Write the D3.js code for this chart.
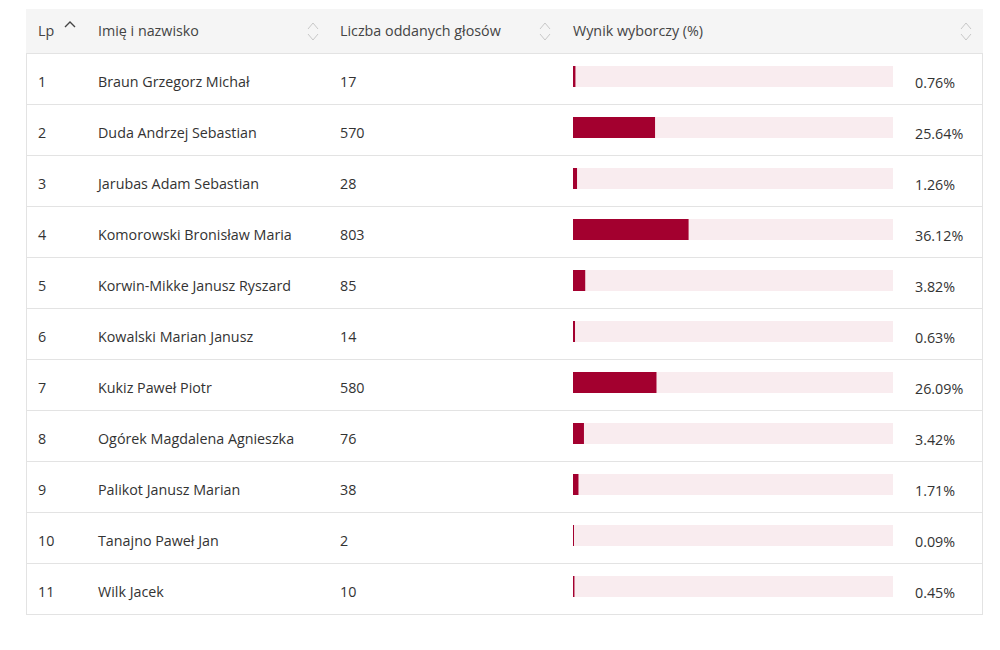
<!DOCTYPE html>
<html><head><meta charset="utf-8">
<script src="https://cdn.jsdelivr.net/npm/d3@7"></script>
<style>
html,body{margin:0;padding:0;background:#fff;}
svg{display:block;font-family:"Open Sans",sans-serif;}
</style></head>
<body><svg id="c" width="1000" height="650"></svg>
<script>
const headers = ["Lp", "Imię i nazwisko", "Liczba oddanych głosów", "Wynik wyborczy (%)"];
const lp = [1,2,3,4,5,6,7,8,9,10,11];
const names = ["Braun Grzegorz Michał","Duda Andrzej Sebastian","Jarubas Adam Sebastian","Komorowski Bronisław Maria","Korwin-Mikke Janusz Ryszard","Kowalski Marian Janusz","Kukiz Paweł Piotr","Ogórek Magdalena Agnieszka","Palikot Janusz Marian","Tanajno Paweł Jan","Wilk Jacek"];
const votes = [17,570,28,803,85,14,580,76,38,2,10];
const pct = [0.76,25.64,1.26,36.12,3.82,0.63,26.09,3.42,1.71,0.09,0.45];

const svg = d3.select("#c");
const fs = 14.3;
const left = 26, right = 983, headTop = 9, headH = 44, rowH = 51;
const bodyTop = headTop + headH;
const y = d3.scaleBand().domain(lp).range([bodyTop, bodyTop + rowH*lp.length]);
const x = d3.scaleLinear().domain([0,100]).range([573, 893]);
const colX = [38, 98, 340, 573];

// header
svg.append("rect").attr("x",left).attr("y",headTop).attr("width",right-left).attr("height",headH).attr("fill","#f5f5f5");
svg.selectAll("text.h").data(headers).join("text").attr("class","h")
  .attr("x",(d,i)=>colX[i]).attr("y",headTop+headH/2).attr("dy","0.35em")
  .attr("font-size",fs).attr("fill","#444").text(d=>d);

// sort icons
svg.append("path").attr("d","M65,27 L70,22 L75,27").attr("fill","none").attr("stroke","#444").attr("stroke-width",1.4);
[313,545,966].forEach(cx=>{
  svg.append("path").attr("d",`M${cx-5},${29} L${cx},${23} L${cx+5},${29}`).attr("fill","none").attr("stroke","#c8c8c8").attr("stroke-width",1);
  svg.append("path").attr("d",`M${cx-5},${34} L${cx},${40} L${cx+5},${34}`).attr("fill","none").attr("stroke","#c8c8c8").attr("stroke-width",1);
});

// body borders
svg.append("line").attr("x1",left+0.5).attr("x2",left+0.5).attr("y1",bodyTop).attr("y2",y.range()[1]+1).attr("stroke","#e3e3e3");
svg.append("line").attr("x1",right-0.5).attr("x2",right-0.5).attr("y1",bodyTop).attr("y2",y.range()[1]+1).attr("stroke","#e3e3e3");
svg.append("line").attr("x1",left).attr("x2",right).attr("y1",bodyTop+0.5).attr("y2",bodyTop+0.5).attr("stroke","#e3e3e3");

const rows = svg.selectAll("g.r").data(lp.map((d,i)=>({lp:d,name:names[i],votes:votes[i],pct:pct[i]}))).join("g").attr("class","r")
  .attr("transform",d=>`translate(0,${y(d.lp)})`);
rows.append("line").attr("x1",left).attr("x2",right).attr("y1",rowH+0.5).attr("y2",rowH+0.5).attr("stroke","#e3e3e3");
rows.append("text").attr("x",colX[0]).attr("y",29).attr("dy","0.35em").attr("font-size",fs).attr("fill","#333").text(d=>d.lp);
rows.append("text").attr("x",colX[1]).attr("y",29).attr("dy","0.35em").attr("font-size",fs).attr("fill","#333").text(d=>d.name);
rows.append("text").attr("x",colX[2]).attr("y",29).attr("dy","0.35em").attr("font-size",fs).attr("fill","#333").text(d=>d.votes);
rows.append("rect").attr("x",x(0)).attr("y",13).attr("width",x(100)-x(0)).attr("height",21).attr("fill","#f9ecef");
rows.append("rect").attr("x",x(0)).attr("y",13).attr("width",d=>Math.max(1,x(d.pct)-x(0))).attr("height",21).attr("fill","#a3002f");
rows.append("text").attr("x",915).attr("y",30).attr("dy","0.35em").attr("font-size",fs).attr("fill","#333").text(d=>d.pct.toFixed(2)+"%");
</script>
</body></html>
